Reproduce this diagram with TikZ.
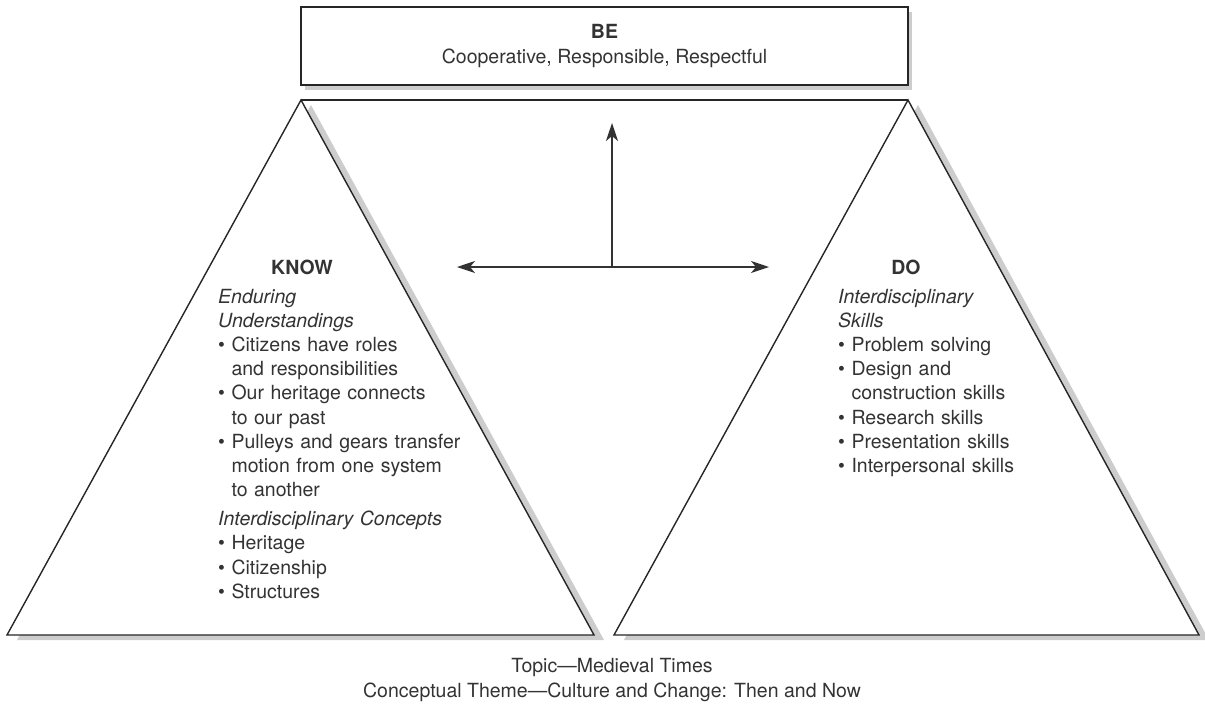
\documentclass[tikz,border=0pt]{standalone}
\usepackage{fontspec}
\setmainfont{TeX Gyre Heros}
\usetikzlibrary{arrows.meta,shadows}

\definecolor{inkgray}{HTML}{333333}
\definecolor{edgegray}{HTML}{262626}
\definecolor{shadowgray}{HTML}{CDCDCD}

\newcommand{\bodyfont}{\fontsize{19.5}{24.2}\selectfont}
\newcommand{\hang}{\phantom{\textbullet}\ }

\begin{document}
\begin{tikzpicture}[x=1pt,y=-1pt,
  txt/.style={text=inkgray, font=\bodyfont, inner sep=0pt},
  head/.style={txt, font=\bodyfont\bfseries, anchor=base},
  body/.style={txt, anchor=base west, align=left, text width=270pt},
  edge/.style={draw=edgegray, line width=1.4pt, line join=miter},
  axis/.style={line width=1.3pt, draw=inkgray, -{Stealth[length=18pt,width=12pt,inset=5pt]}}]
\useasboundingbox (0,0) rectangle (1205,707);

% Triangle corners
\coordinate (knowapex) at (301,100);
\coordinate (knowleft) at (7,635);
\coordinate (knowright) at (594,635);
\coordinate (doapex) at (908,100);
\coordinate (doleft) at (614,635);
\coordinate (doright) at (1199,635);

% Shadows
\fill[shadowgray] ([shift={(10,5)}]knowapex) -- ([shift={(10,5)}]knowleft) -- ([shift={(10,5)}]knowright) -- cycle;
\fill[shadowgray] ([shift={(10,5)}]doapex) -- ([shift={(10,5)}]doleft) -- ([shift={(10,5)}]doright) -- cycle;

% Triangles
\filldraw[edge, fill=white] (knowapex) -- (knowleft) -- (knowright) -- cycle;
\filldraw[edge, fill=white] (doapex) -- (doleft) -- (doright) -- cycle;
\draw[edge] (knowapex) -- (doapex);

% BE box
\node[edge, fill=white, txt, align=center, minimum width=607pt, minimum height=78pt,
  drop shadow={shadow xshift=4pt, shadow yshift=-5pt, fill=shadowgray, opacity=1}]
  (be) at (604.5,46) {\textbf{BE}\\Cooperative, Responsible, Respectful};

% Arrows
\coordinate (hub) at (612,267);
\coordinate (up) at (612,123);
\coordinate (west) at (457,267);
\coordinate (east) at (769,267);
\draw[axis] (hub) -- (up);
\draw[axis] (hub) -- (west);
\draw[axis] (hub) -- (east);

% KNOW
\node[head] (knowhead) at (302,274) {KNOW};
\node[body] (knowlist) at (218,303) {\textit{Enduring}\\
  \textit{Understandings}\\
  \textbullet\ Citizens have roles\\
  \hang and responsibilities\\
  \textbullet\ Our heritage connects\\
  \hang to our past\\
  \textbullet\ Pulleys and gears transfer\\
  \hang motion from one system\\
  \hang to another\\[4.8pt]
  \textit{Interdisciplinary Concepts}\\
  \textbullet\ Heritage\\
  \textbullet\ Citizenship\\
  \textbullet\ Structures};

% DO
\node[head] (dohead) at (906,274) {DO};
\node[body] (dolist) at (838,303) {\textit{Interdisciplinary}\\
  \textit{Skills}\\
  \textbullet\ Problem solving\\
  \textbullet\ Design and\\
  \hang construction skills\\
  \textbullet\ Research skills\\
  \textbullet\ Presentation skills\\
  \textbullet\ Interpersonal skills};

% Caption
\node[txt, anchor=base] (topic) at (612,672) {Topic---Medieval Times};
\node[txt, anchor=base] (theme) at (612,697) {Conceptual Theme---Culture and Change: Then and Now};
\end{tikzpicture}
\end{document}
